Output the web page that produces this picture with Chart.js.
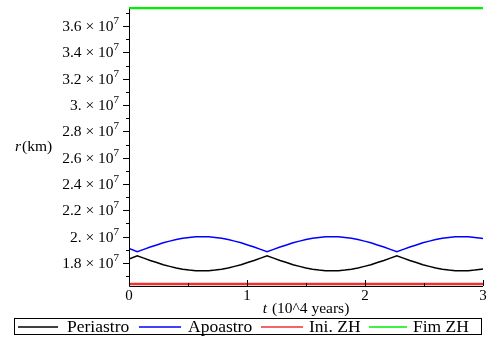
<!DOCTYPE html>
<html><head><meta charset="utf-8">
<script src="https://cdn.jsdelivr.net/npm/chart.js@4"></script>
<style>html,body{margin:0;padding:0;background:#fff}#wrap{width:494px;height:340px}</style>
</head><body><div id="wrap"><canvas id="c" width="494" height="340"></canvas></div>
<script>
// time in 10^4 years
const times = [0, 0.07, 0.125, 0.18, 0.235, 0.29, 0.345, 0.4, 0.455, 0.51, 0.565, 0.62, 0.675, 0.73, 0.785, 0.84, 0.895, 0.95, 1.005, 1.06, 1.115, 1.17, 1.225, 1.28, 1.335, 1.39, 1.445, 1.5, 1.555, 1.61, 1.665, 1.72, 1.775, 1.83, 1.885, 1.94, 1.995, 2.05, 2.105, 2.16, 2.215, 2.27, 2.325, 2.38, 2.435, 2.49, 2.545, 2.6, 2.655, 2.71, 2.765, 2.82, 2.875, 2.93, 2.985, 3.0];
// radii in units of 10^7 km
const periastro = [1.830,
  1.855,1.837,1.819,1.803,1.787,1.774,1.762,1.753,1.746,1.741,1.740,1.741,1.746,1.753,1.762,1.774,1.787,1.803,1.819,1.837,1.855,
  1.837,1.819,1.803,1.787,1.774,1.762,1.753,1.746,1.741,1.740,1.741,1.746,1.753,1.762,1.774,1.787,1.803,1.819,1.837,1.855,
  1.837,1.819,1.803,1.787,1.774,1.762,1.753,1.746,1.741,1.740,1.741,1.746,1.753,1.755];
const apoastro = [1.910,
  1.885,1.903,1.921,1.937,1.953,1.966,1.978,1.987,1.994,1.999,2.000,1.999,1.994,1.987,1.978,1.966,1.953,1.937,1.921,1.903,1.885,
  1.903,1.921,1.937,1.953,1.966,1.978,1.987,1.994,1.999,2.000,1.999,1.994,1.987,1.978,1.966,1.953,1.937,1.921,1.903,1.885,
  1.903,1.921,1.937,1.953,1.966,1.978,1.987,1.994,1.999,2.000,1.999,1.994,1.987,1.985];
const iniZH = 1.640;
const fimZH = 3.737;
const seriesNames = ['Periastro', 'Apoastro', 'Ini. ZH', 'Fim ZH'];
const yTicks = [1.8, 2.0, 2.2, 2.4, 2.6, 2.8, 3.0, 3.2, 3.4, 3.6];
const yTickText = ['1.8', '2.', '2.2', '2.4', '2.6', '2.8', '3.', '3.2', '3.4', '3.6'];
const xTicks = [0, 1, 2, 3];

const colors = ['#000000', '#0000ff', '#f03030', '#00ee00'];
const widths = [1.5, 1.5, 2.5, 2.5];
const serif = '"Liberation Serif", "DejaVu Serif", serif';

const pts = arr => times.map((t, i) => ({x: t, y: arr[i]}));
const flat = v => [{x: 0, y: v}, {x: 3, y: v}];
const dataArrs = [pts(periastro), pts(apoastro), flat(iniZH), flat(fimZH)];

const decor = {
  id: 'decor',
  afterDraw(chart) {
    const ctx = chart.ctx, ys = chart.scales.y, xs = chart.scales.x, a = chart.chartArea;
    ctx.save();
    ctx.strokeStyle = '#000'; ctx.lineWidth = 1;
    // axes lines
    ctx.beginPath();
    ctx.moveTo(a.left + 0.5, a.top + 2); ctx.lineTo(a.left + 0.5, a.bottom + 0.5);
    ctx.lineTo(a.right, a.bottom + 0.5);
    ctx.stroke();
    // ticks
    ctx.beginPath();
    for (let v = 1.7; v <= 3.71; v += 0.1) {
      const y = Math.round(ys.getPixelForValue(v)) + 0.5;
      const major = yTicks.some(t => Math.abs(t - v) < 1e-6);
      ctx.moveTo(a.left, y); ctx.lineTo(a.left - (major ? 6 : 3), y);
    }
    for (let v = 0; v <= 3.01; v += 0.5) {
      const x = Math.round(xs.getPixelForValue(v)) + 0.5;
      const major = xTicks.some(t => Math.abs(t - v) < 1e-6);
      ctx.moveTo(x, a.bottom); ctx.lineTo(x, a.bottom - (major ? 6 : 3));
    }
    ctx.stroke();
    // y tick labels
    ctx.fillStyle = '#000';
    ctx.textBaseline = 'middle';
    yTicks.forEach((v, i) => {
      const y = ys.getPixelForValue(v);
      ctx.font = '11px ' + serif;
      ctx.textAlign = 'right';
      const right = a.left - 10;
      ctx.fillText('7', right, y - 5);
      const w7 = ctx.measureText('7').width;
      ctx.font = '15.5px ' + serif;
      ctx.fillText(yTickText[i] + ' \u00d7 10', right - w7, y + 1);
    });
    // x tick labels
    ctx.font = '15px ' + serif;
    ctx.textAlign = 'center';
    ctx.textBaseline = 'top';
    xTicks.forEach(v => ctx.fillText(String(v), xs.getPixelForValue(v), a.bottom + 3));
    // axis titles
    ctx.textBaseline = 'alphabetic';
    ctx.textAlign = 'left';
    ctx.font = 'italic 15.5px ' + serif;
    const tw = ctx.measureText('t').width;
    ctx.font = '15.5px ' + serif;
    const rest = ' (10^4 years)';
    const restW = ctx.measureText(rest).width;
    const x0 = (a.left + a.right) / 2 - (tw + 1 + restW) / 2;
    ctx.fillText(rest, x0 + tw + 1, 313);
    ctx.font = 'italic 15.5px ' + serif;
    ctx.fillText('t', x0, 313);
    ctx.fillText('r', 15, 151);
    const rw = ctx.measureText('r').width;
    ctx.font = '15.5px ' + serif;
    ctx.fillText('(km)', 15 + rw + 1, 151);
    // legend box
    ctx.strokeStyle = '#000'; ctx.lineWidth = 1;
    ctx.strokeRect(14.5, 318.5, 467, 16);
    ctx.font = '17.5px ' + serif;
    const lineStart = [18, 139, 261, 369];
    const lineEnd = [58, 181, 303, 407];
    const textStart = [67, 188, 309, 413];
    seriesNames.forEach((n, i) => {
      ctx.strokeStyle = colors[i]; ctx.lineWidth = 1.5;
      ctx.beginPath(); ctx.moveTo(lineStart[i], 327); ctx.lineTo(lineEnd[i], 327); ctx.stroke();
      ctx.fillStyle = '#000';
      ctx.fillText(n, textStart[i], 332);
    });
    ctx.restore();
  }
};

new Chart(document.getElementById('c'), {
  type: 'line',
  data: {
    datasets: seriesNames.map((n, i) => ({
      label: n, data: dataArrs[i], borderColor: colors[i], borderWidth: widths[i],
      pointRadius: 0, tension: 0, fill: false
    }))
  },
  options: {
    responsive: false, animation: false, devicePixelRatio: 1,
    layout: {padding: {top: 7, right: 11, left: 0, bottom: 0}},
    plugins: {legend: {display: false}, tooltip: {enabled: false}},
    scales: {
      x: {type: 'linear', min: 0, max: 3,
          grid: {display: false, drawTicks: false}, border: {display: false},
          ticks: {display: false},
          afterFit: s => { s.height = 54; }},
      y: {min: 1.625, max: 3.745,
          grid: {display: false, drawTicks: false}, border: {display: false},
          ticks: {display: false},
          afterFit: s => { s.width = 129; }}
    }
  },
  plugins: [decor]
});
</script></body></html>
